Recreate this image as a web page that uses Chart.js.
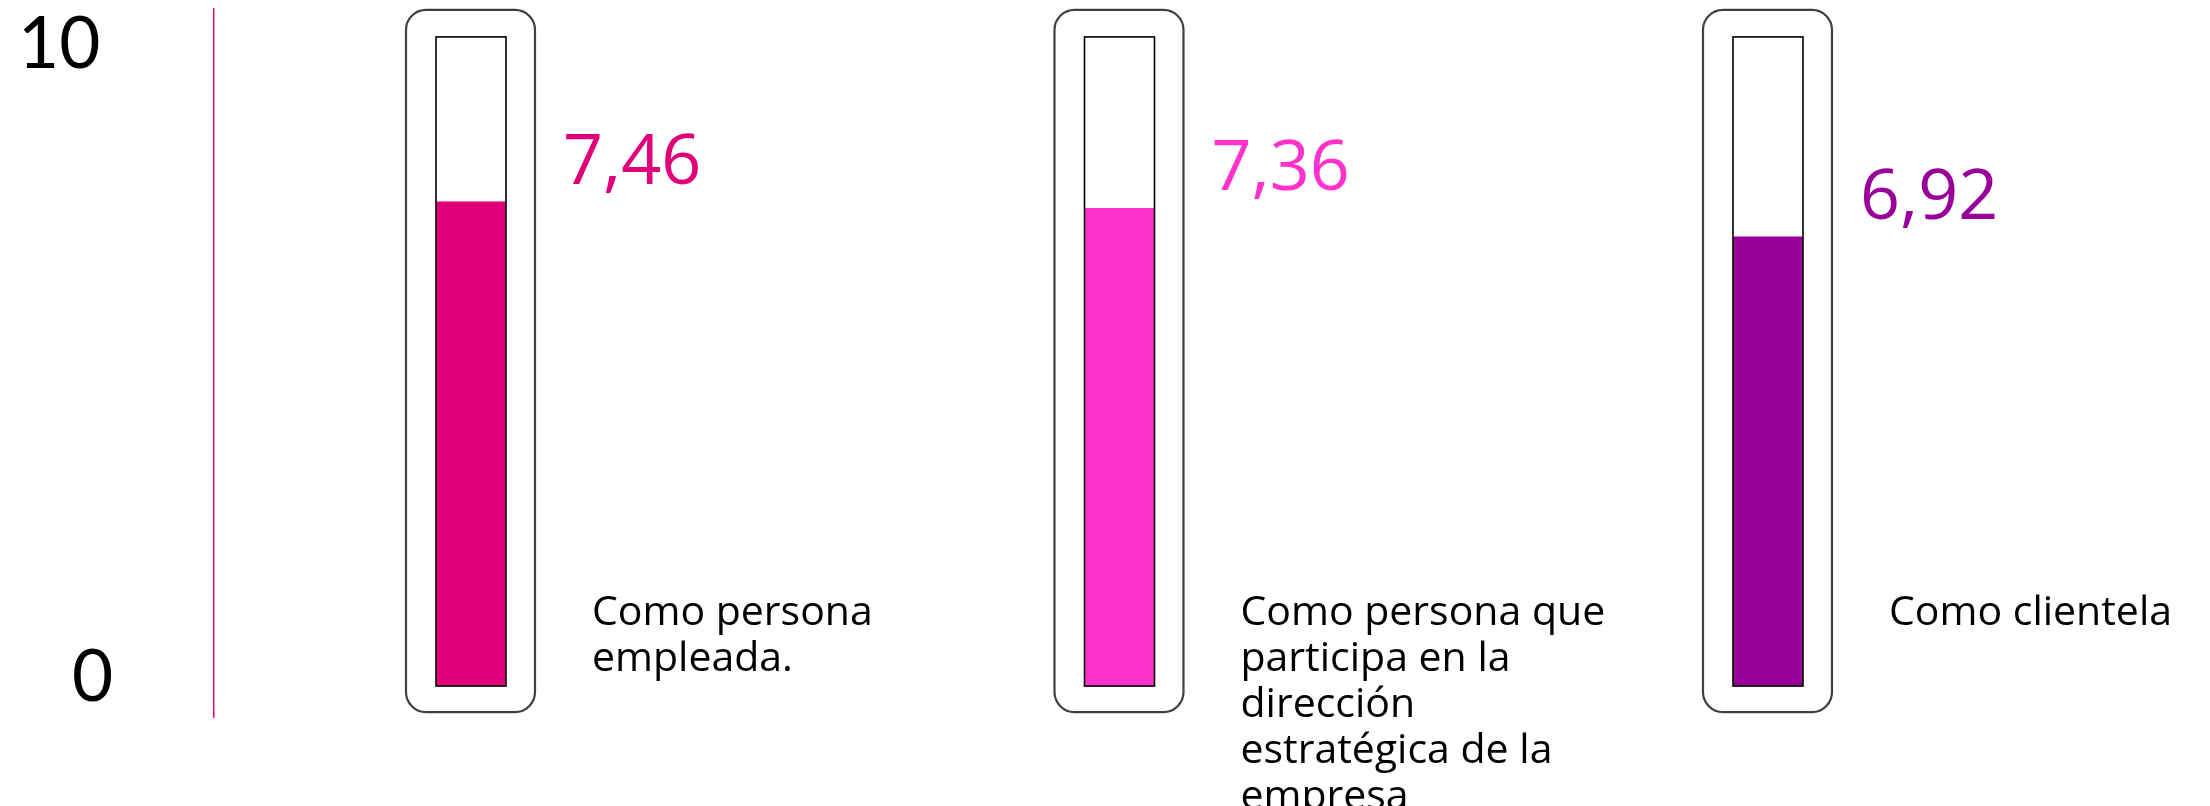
<!DOCTYPE html>
<html>
<head>
<meta charset="utf-8">
<script src="https://cdn.jsdelivr.net/npm/chart.js@4/dist/chart.umd.min.js"></script>
<style>
  html, body { margin: 0; padding: 0; background: #ffffff; }
  #wrap { width: 2210px; height: 806px; position: relative; }
</style>
</head>
<body>
<div id="wrap"><canvas id="c"></canvas></div>
<script>
// ---- data ----
const categories = [
  ["Como persona", "empleada."],
  ["Como persona que", "participa en la", "dirección", "estratégica de la", "empresa"],
  ["Como clientela"]
];
const values = [7.46, 7.36, 6.92];
const barColors = ["#E2007A", "#FF33CC", "#990099"];
const yTicks = [0, 10];
const yTickLabels = ["0", "10"];

const fmt = v => v.toLocaleString('es-ES', { minimumFractionDigits: 2, maximumFractionDigits: 2 });

// frames (thermometer casing) drawn around each bar, using the library's scales
const framePlugin = {
  id: 'frames',
  beforeDatasetsDraw(chart) {
    const ctx = chart.ctx;
    const ys = chart.scales.y;
    const top = ys.getPixelForValue(yTicks[yTicks.length - 1]);
    const bottom = ys.getPixelForValue(yTicks[0]);
    chart.getDatasetMeta(0).data.forEach(bar => {
      const l = bar.x - 35, r = bar.x + 35;
      ctx.save();
      ctx.beginPath();
      ctx.roundRect(l - 30, top - 27, (r - l) + 59, (bottom - top) + 53, 20);
      ctx.fillStyle = '#ffffff';
      ctx.fill();
      ctx.lineWidth = 2.2;
      ctx.strokeStyle = '#404040';
      ctx.stroke();
      ctx.restore();
    });
  },
  afterDatasetsDraw(chart) {
    const ctx = chart.ctx;
    const ys = chart.scales.y;
    const top = ys.getPixelForValue(yTicks[yTicks.length - 1]);
    const bottom = ys.getPixelForValue(yTicks[0]);
    chart.getDatasetMeta(0).data.forEach(bar => {
      const l = bar.x - 35, r = bar.x + 35;
      ctx.save();
      ctx.lineWidth = 1.6;
      ctx.strokeStyle = '#000000';
      ctx.strokeRect(l, top, r - l, bottom - top);
      ctx.restore();
    });
  }
};

const textPlugin = {
  id: 'texts',
  afterDraw(chart) {
    const ctx = chart.ctx;
    const ys = chart.scales.y;
    const zeroY = ys.getPixelForValue(0);
    ctx.save();
    ctx.fillStyle = '#000000';
    ctx.font = '71px Lato';
    ctx.textAlign = 'left';
    ctx.textBaseline = 'alphabetic';
    const tickX = [72, 18];
    const tickDy = [15, 31];
    yTicks.forEach((t, i) => {
      ctx.fillText(yTickLabels[i], tickX[i], ys.getPixelForValue(t) + tickDy[i]);
    });
    chart.getDatasetMeta(0).data.forEach((bar, i) => {
      ctx.fillStyle = barColors[i];
      ctx.font = '70px "Open Sans"';
      ctx.fillText(fmt(values[i]), bar.x + 92, bar.y - 18);
      ctx.fillStyle = '#000000';
      ctx.font = '41px "Open Sans"';
      categories[i].forEach((line, k) => {
        ctx.fillText(line, bar.x + 121, zeroY - 61 + k * 46);
      });
    });
    ctx.restore();
  }
};

new Chart(document.getElementById('c'), {
  type: 'bar',
  data: {
    datasets: [{
      data: values.map((v, i) => ({ x: i, y: v })),
      backgroundColor: barColors,
      borderWidth: 0,
      barThickness: 69
    }]
  },
  options: {
    responsive: true,
    maintainAspectRatio: false,
    animation: false,
    devicePixelRatio: 1,
    layout: { padding: { left: 214, top: 9, bottom: 89, right: 0 } },
    plugins: { legend: { display: false }, tooltip: { enabled: false } },
    scales: {
      x: {
        type: 'linear',
        display: false,
        offset: false,
        min: -0.3963,
        max: 2.6816,
        grid: { display: false, offset: false }
      },
      y: {
        min: -0.477,
        max: 10.43,
        grid: { display: false, drawTicks: false },
        ticks: { display: false },
        border: { display: true, color: '#E6007E', width: 1.5 }
      }
    }
  },
  plugins: [framePlugin, textPlugin]
});
</script>
</body>
</html>
